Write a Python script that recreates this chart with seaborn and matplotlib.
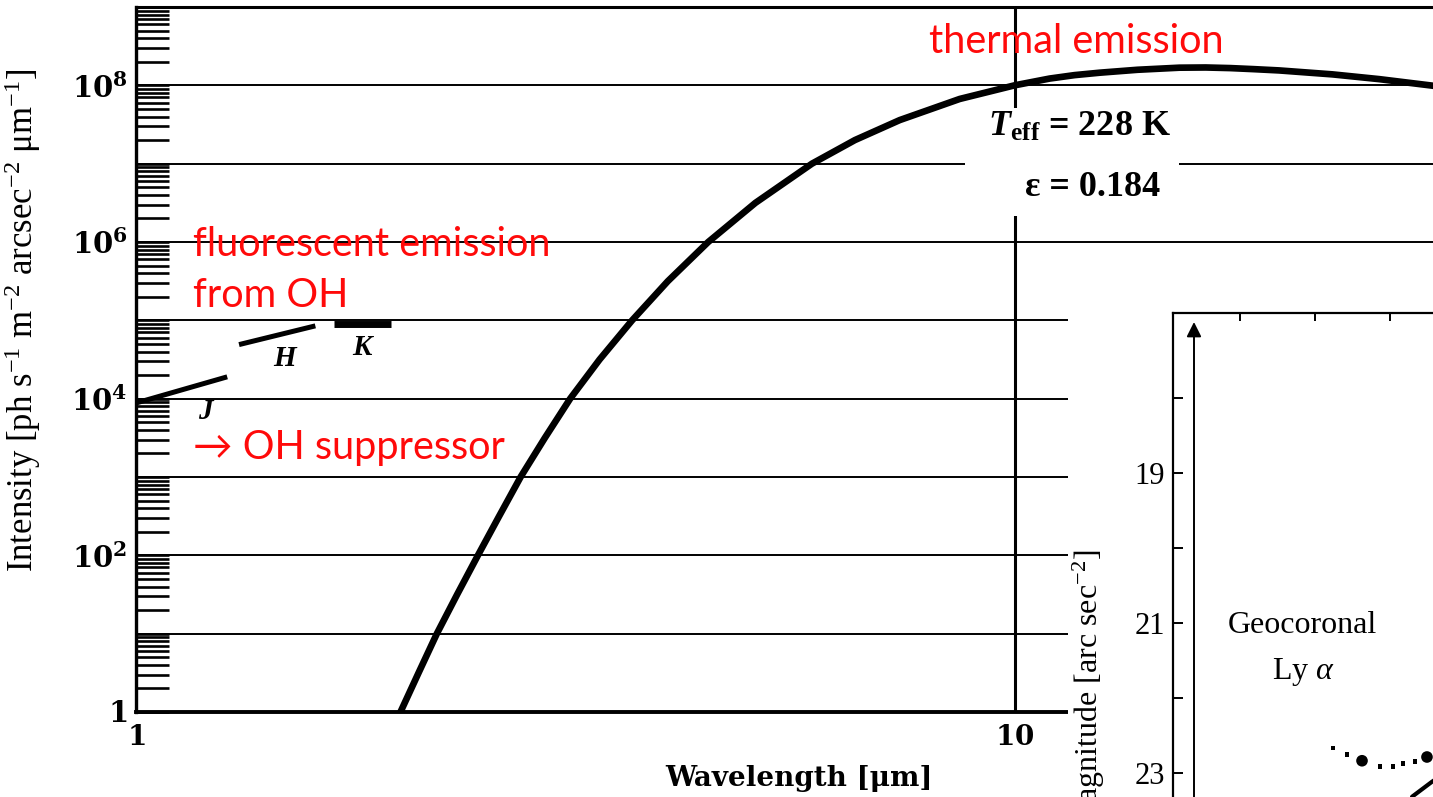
import numpy as np
import pandas as pd
import matplotlib
matplotlib.use("Agg")
import matplotlib.pyplot as plt
import seaborn as sns
from matplotlib.patches import Rectangle
from matplotlib.ticker import LogLocator, FixedLocator, FuncFormatter, NullFormatter, NullLocator

# ---- sky background: thermal (zodiacal) emission, wavelength [um] vs intensity
thermal_wavelength = [1.96, 2.0, 2.097, 2.20, 2.32, 2.45, 2.59, 2.74, 2.92, 3.12,
                      3.37, 3.67, 4.03, 4.48, 5.07, 5.88, 6.58, 7.40, 8.66, 10.0,
                      10.96, 11.7, 12.5, 13.8, 15.4, 16.5, 17.6, 18.7, 20.0, 23.0,
                      26.0, 29.9, 32.5]
thermal_intensity = [0.56, 1.0, 3.16, 1.0e1, 3.16e1, 1.0e2, 3.16e2, 1.0e3, 3.16e3, 1.0e4,
                     3.16e4, 1.0e5, 3.16e5, 1.0e6, 3.16e6, 1.0e7, 2.0e7, 3.6e7, 6.7e7, 1.0e8,
                     1.22e8, 1.35e8, 1.45e8, 1.58e8, 1.68e8, 1.69e8, 1.66e8, 1.61e8, 1.55e8, 1.38e8,
                     1.2e8, 9.9e7, 8.6e7]

# ---- OH airglow in the J, H, K windows
oh_band = ["J", "J", "H", "H"]
oh_wavelength = [1.0, 1.27, 1.31, 1.60]
oh_intensity = [8.8e3, 1.9e4, 4.9e4, 8.5e4]
k_wavelength = [1.68, 1.95]
k_intensity = [9.0e4, 9.0e4]

# ---- inset: surface brightness in magnitudes
geo_x = [1.24, 1.427, 1.627, 1.867, 2.04, 2.173, 2.333, 2.493]
geo_mag = [22.67, 22.76, 22.84, 22.92, 22.92, 22.88, 22.85, 22.79]
geo_big = [False, False, True, False, False, False, False, True]
zodi_x = [2.294, 2.56, 2.667]
zodi_mag = [23.32, 23.12, 23.05]

y_decades = list(range(0, 10))
y_labeled = [0, 2, 4, 6, 8]
inset_major = [19, 21, 23]
inset_minor = [18, 20, 22, 24]

W, H = 1433, 797

sns.set_theme(style="white")
plt.rcParams["font.family"] = ["Liberation Serif", "DejaVu Serif"]
plt.rcParams["mathtext.fontset"] = "dejavuserif"
plt.rcParams["mathtext.rm"] = "Liberation Serif"
plt.rcParams["mathtext.it"] = "Liberation Serif:italic"
plt.rcParams["mathtext.bf"] = "Liberation Serif:bold"
plt.rcParams["mathtext.bfit"] = "Liberation Serif:bold:italic"
for key in ["text.color", "axes.labelcolor", "xtick.color", "ytick.color", "axes.edgecolor"]:
    plt.rcParams[key] = "black"

fig = plt.figure(figsize=(W / 100, H / 100), dpi=100)
fig.patch.set_facecolor("white")


def frac(x0, y0, x1, y1):
    return [x0 / W, 1 - y1 / H, (x1 - x0) / W, (y1 - y0) / H]


ax = fig.add_axes(frac(136, 7, 1462, 712))
ax.set_facecolor("white")
ax.set_xscale("log")
ax.set_yscale("log")
ax.set_xlim(1, 32.3)
ax.set_ylim(1, 1e9)

# thermal curve
sns.lineplot(x=thermal_wavelength, y=thermal_intensity, ax=ax, color="black",
             lw=4.8, estimator=None, sort=False, zorder=4)

# OH bands
oh_df = pd.DataFrame({"band": oh_band, "wl": oh_wavelength, "I": oh_intensity})
sns.lineplot(data=oh_df, x="wl", y="I", units="band", estimator=None, ax=ax,
             color="black", lw=3.6, zorder=4, solid_capstyle="butt")
sns.lineplot(x=k_wavelength, y=k_intensity, ax=ax, color="black", lw=5.0,
             estimator=None, zorder=4, solid_capstyle="butt")

# axes, ticks, grid
ax.yaxis.set_major_locator(FixedLocator([10.0 ** e for e in y_decades]))
ax.yaxis.set_minor_locator(LogLocator(base=10, subs=np.arange(2, 10), numticks=100))
ax.yaxis.set_minor_formatter(NullFormatter())


def ylab(v, pos):
    e = int(round(np.log10(v)))
    if e not in y_labeled:
        return ""
    if e == 0:
        return r"$\mathbf{1}$"
    return r"$\mathbf{10^{%d}}$" % e


ax.yaxis.set_major_formatter(FuncFormatter(ylab))
ax.xaxis.set_major_locator(FixedLocator([1, 10]))
ax.xaxis.set_minor_locator(NullLocator())
ax.xaxis.set_major_formatter(FuncFormatter(lambda v, p: r"$\mathbf{%d}$" % round(v)))

ax.tick_params(axis="y", which="both", direction="in", length=24, width=1.9,
               left=True, right=False, labelsize=21, pad=6, colors="black")
ax.tick_params(axis="x", which="both", length=0, labelsize=20, pad=10, colors="black")
for lbl in ax.get_yticklabels() + ax.get_xticklabels():
    lbl.set_math_fontfamily("dejavuserif")

ax.yaxis.grid(True, which="major", color="black", lw=1.4)
ax.xaxis.grid(True, which="major", color="black", lw=2.2)

ax.spines["left"].set_linewidth(2.4)
ax.spines["top"].set_linewidth(2.2)
ax.spines["bottom"].set_linewidth(2.8)
ax.spines["right"].set_visible(False)

ax.set_xlabel("Wavelength [\u03bcm]", fontsize=20, fontweight="bold",
              family="DejaVu Serif", labelpad=10)
ax.set_ylabel("Intensity [ph s$^{-1}$ m$^{-2}$ arcsec$^{-2}$ \u03bcm$^{-1}$]",
              fontsize=25, math_fontfamily="custom")
ax.yaxis.set_label_coords(-0.070, 0.556)

# parameter box
ax.add_patch(Rectangle((8.77, 2.16e6), 15.4 - 8.77, 5.18e7 - 2.16e6,
                       facecolor="white", edgecolor="none", zorder=2))
ax.text(11.86, 2.87e7, r"$\mathbfit{T}_{\mathbf{eff}}$ = 228 K", fontsize=26,
        fontweight="bold", ha="center", va="center", zorder=5,
        math_fontfamily="custom")
ax.text(12.27, 4.92e6, "\u03b5 = 0.184", fontsize=26, fontweight="bold",
        ha="center", va="center", zorder=5)

# band names
for name, xw, yi in [("J", 1.198, 6.9e3), ("H", 1.477, 3.3e4), ("K", 1.807, 4.45e4)]:
    ax.text(xw, yi, name, fontsize=21, fontweight="bold", fontstyle="italic",
            ha="center", va="center", zorder=5)

# red annotations
red = "#ff0a0a"
sans = ["Lato", "DejaVu Sans"]
ax.text(8.0, 3.6e8, "thermal emission", color=red, fontsize=28.5, family=sans,
        ha="left", va="center", zorder=6)
ax.text(1.161, 9.2e5, "fluorescent emission", color=red, fontsize=28.5, family=sans,
        ha="left", va="center", zorder=6)
ax.text(1.161, 2.06e5, "from OH", color=red, fontsize=28.5, family=sans,
        ha="left", va="center", zorder=6)
ax.text(1.161, 2.4e3, "\u2192 OH suppressor", color=red, fontsize=28.5, family=sans,
        ha="left", va="center", zorder=6)

# white area behind the inset panel
fig.add_artist(Rectangle((1068 / W, -0.05), 0.5, 1.05 - 313 / H,
                         transform=fig.transFigure, facecolor="white",
                         edgecolor="none", zorder=1))

# ---- inset panel
axi = fig.add_axes(frac(1173, 313, 1603, 877))
axi.set_zorder(2)
axi.set_facecolor("white")
axi.set_xlim(-0.893, 4.84)
axi.set_ylim(24.39, 16.87)

sns.scatterplot(x=[x for x, b in zip(geo_x, geo_big) if not b],
                y=[m for m, b in zip(geo_mag, geo_big) if not b],
                marker="s", s=12, color="black", edgecolor="none", ax=axi, zorder=3)
sns.scatterplot(x=[x for x, b in zip(geo_x, geo_big) if b],
                y=[m for m, b in zip(geo_mag, geo_big) if b],
                marker="o", s=70, color="black", edgecolor="none", ax=axi, zorder=3)
sns.lineplot(x=zodi_x, y=zodi_mag, ax=axi, color="black", lw=3.0,
             estimator=None, sort=False, zorder=3)

axi.annotate("", xy=(-0.613, 16.99), xytext=(-0.613, 24.3),
             arrowprops=dict(arrowstyle="-|>", color="black", lw=1.4,
                             mutation_scale=22, shrinkA=0, shrinkB=0))

axi.yaxis.set_major_locator(FixedLocator(inset_major))
axi.yaxis.set_minor_locator(FixedLocator(inset_minor))
axi.yaxis.set_major_formatter(FuncFormatter(lambda v, p: "%d" % round(v)))
axi.xaxis.set_major_locator(FixedLocator([0, 1, 2, 3, 4]))
axi.xaxis.set_minor_locator(NullLocator())
axi.xaxis.set_ticks_position("top")
axi.tick_params(axis="x", which="both", direction="in", length=6, width=1.4,
                labeltop=False, labelbottom=False, colors="black")
axi.tick_params(axis="y", which="both", direction="in", length=7, width=1.4,
                left=True, right=False, labelsize=22, pad=6, colors="black")
for side in ["left", "top"]:
    axi.spines[side].set_linewidth(1.6)
for side in ["right", "bottom"]:
    axi.spines[side].set_visible(False)
axi.set_xlabel("")
axi.set_ylabel("")

axi.text(0.83, 21.04, "Geocoronal", fontsize=23, ha="center", va="center")
axi.text(0.85, 21.65, r"Ly $\alpha$", fontsize=23, ha="center", va="center",
         math_fontfamily="custom")

fig.text(1089 / W, 1 - 550 / H, r"Magnitude [arc sec$^{-2}$]", rotation=90,
         fontsize=23, ha="center", va="top", math_fontfamily="custom", zorder=3)

fig.savefig("out.png", dpi=100, facecolor="white")
